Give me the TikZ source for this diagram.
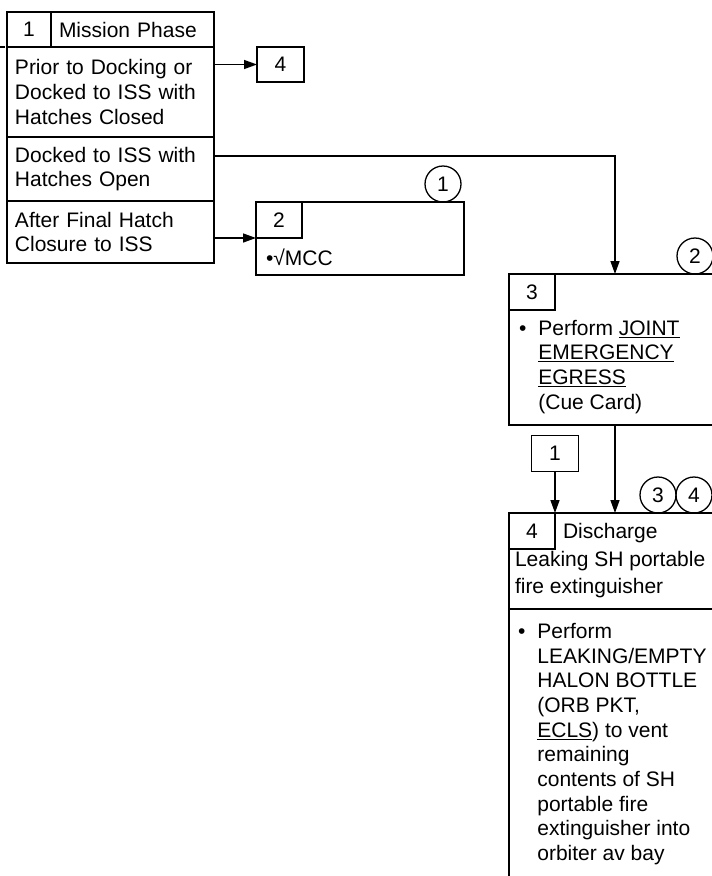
\documentclass[tikz,border=0pt]{standalone}
\usepackage{fontspec}
\setmainfont{Liberation Sans}
\usepackage{tikz}
\usetikzlibrary{arrows.meta, positioning, calc}

\begin{document}
\begin{tikzpicture}[
    x=1pt, y=-1pt,
    every node/.style={font=\fontsize{21}{24.7}\selectfont, outer sep=0pt},
    cell/.style={rectangle, draw, line width=1.6pt, anchor=north west, inner xsep=8pt, inner ysep=-5pt, align=left},
    tab/.style={rectangle, draw, line width=1.3pt, minimum width=46pt, minimum height=36pt, inner sep=0pt},
    txt/.style={inner sep=0pt, anchor=north west},
    note/.style={circle, draw, line width=1.3pt, minimum size=36pt, inner sep=0pt},
    line/.style={line width=1.3pt},
    arrow/.style={line width=1.4pt, -{Triangle[length=13pt, width=9pt]}}
]
    \useasboundingbox (0,0) rectangle (712,876);
    \clip (0,0) rectangle (712,876);

    % Mission phase table
    \node[cell, inner xsep=0pt, minimum width=44pt, minimum height=35pt] (tab1) at (7,12) {1};
    \node[cell, text width=147pt, minimum height=35pt] (head1) at (tab1.north east) {Mission Phase};
    \node[cell, text width=191pt, minimum height=90pt, below=0pt of tab1.south west, anchor=north west] (row1) {Prior to Docking or\\Docked to ISS with\\Hatches Closed};
    \node[cell, text width=191pt, minimum height=64pt, below=0pt of row1.south west, anchor=north west] (row2) {Docked to ISS with\\Hatches Open};
    \node[cell, text width=191pt, minimum height=62pt, below=0pt of row2.south west, anchor=north west] (row3) {After Final Hatch\\Closure to ISS};
    \coordinate (entry) at (-20,47);

    % Go to 4
    \node[tab, minimum width=47pt, minimum height=35pt] (goto4) at (280.5,64.5) {4};

    % Check MCC
    \node[cell, minimum width=208pt, minimum height=73pt] (box2) at (256,202) {};
    \node[tab, anchor=north west] (tab2) at (box2.north west) {2};
    \node[anchor=base west, inner sep=0pt] (mcc) at (266,265) {\textbullet√MCC};
    \node[note, anchor=south] (c1) at ([xshift=-21pt]box2.north east) {1};

    % Joint egress
    \node[cell, minimum width=212pt, minimum height=151pt] (box3) at (509,274) {};
    \node[tab, anchor=north west] (tab3) at (box3.north west) {3};
    \node[txt, below right=8pt and 10pt of tab3.south west] (egress) {\begin{tabular}{@{}l@{\hspace{12pt}}l@{}}
        \textbullet & Perform \underline{JOINT}\\
         & \underline{EMERGENCY}\\
         & \underline{EGRESS}\\
         & (Cue Card)
    \end{tabular}};
    \node[note, anchor=south] (c2) at ([xshift=-26pt]box3.north east) {2};

    % From 1
    \node[tab, minimum width=47pt] (from1) at (555,453.5) {1};

    % Discharge
    \node[cell, minimum width=212pt, minimum height=96pt] (head4) at (509,513) {};
    \node[tab, anchor=north west] (tab4) at (head4.north west) {4};
    \node[inner sep=0pt, right=8pt of tab4.base east, anchor=base west] (disch) {Discharge};
    \node[txt, below right=0pt and 6pt of tab4.south west] (leak) {\begin{tabular}{@{}l@{}}Leaking SH portable\\[3pt]fire extinguisher\end{tabular}};
    \node[cell, minimum width=212pt, minimum height=320pt, below=0pt of head4.south west, anchor=north west] (body4) {};
    \node[txt, below right=12pt and 9pt of body4.north west] (vent) {\begin{tabular}{@{}l@{\hspace{12pt}}l@{}}
        \textbullet & Perform\\
         & LEAKING/EMPTY\\
         & HALON BOTTLE\\
         & (ORB PKT,\\
         & \underline{ECLS}) to vent\\
         & remaining\\
         & contents of SH\\
         & portable fire\\
         & extinguisher into\\
         & orbiter av bay
    \end{tabular}};
    \node[note, anchor=south] (c4) at ([xshift=-27pt]head4.north east) {4};
    \node[note, left=0pt of c4] (c3) {3};

    % Connectors
    \draw[line] (entry) -- ([xshift=-2pt]tab1.south west);
    \draw[arrow] (row1.east |- goto4.west) -- (goto4.west);
    \draw[arrow] ([yshift=13pt]row2.east) -| (box3.north);
    \draw[arrow] (row3.east |- tab2.south west) -- (tab2.south west);
    \draw[arrow] (box3.south) -- (head4.north);
    \draw[arrow] (from1.south) -- (from1.south |- tab4.north east);
\end{tikzpicture}
\end{document}
